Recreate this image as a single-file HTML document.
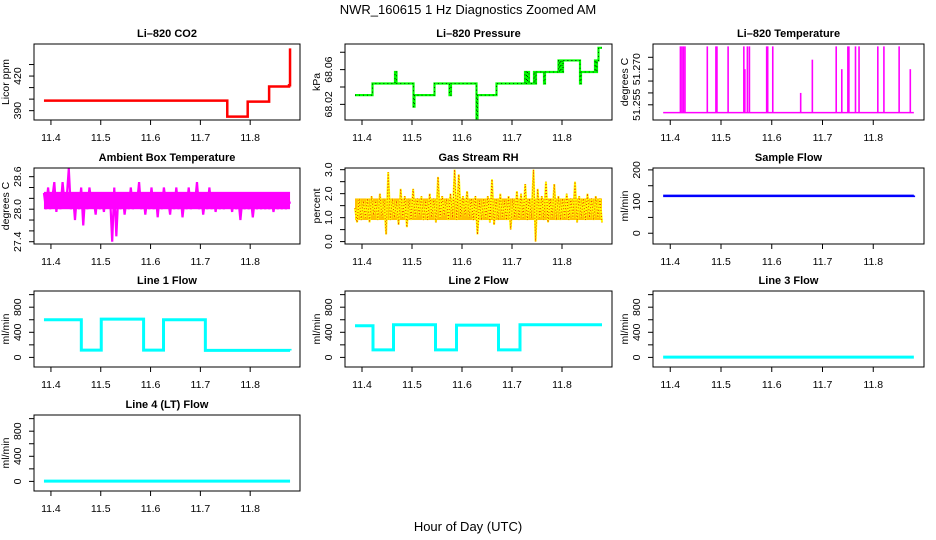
<!DOCTYPE html>
<html><head><meta charset="utf-8">
<style>
html,body{margin:0;padding:0;background:#fff;}
svg{display:block;font-family:"Liberation Sans",Arial,sans-serif;}
.t{font-size:11px;font-weight:bold;text-anchor:middle;}
.tk{font-size:10.5px;text-anchor:middle;}
</style></head>
<body>
<svg id="chart" width="936" height="540" viewBox="0 0 936 540">
<text x="468" y="14" font-size="13" text-anchor="middle">NWR_160615  1 Hz Diagnostics Zoomed AM</text>
<text x="468" y="531" font-size="13" text-anchor="middle">Hour of Day (UTC)</text>
</svg>
<script>
// ---- data ----
const xTicks = [11.4, 11.5, 11.6, 11.7, 11.8];
const xLim = [11.366, 11.900];
const co2Times = [11.386, 11.754, 11.795, 11.838, 11.878, 11.880];
const co2Values = [398.7, 384.8, 397.8, 410.9, 412.0, 444.0];
const presTimes = [11.386,11.421,11.466,11.469,11.503,11.505,11.545,11.575,11.578,11.629,11.631,11.669,11.726,11.729,11.731,11.734,11.744,11.746,11.748,11.764,11.766,11.793,11.795,11.797,11.800,11.802,11.836,11.838,11.866,11.868,11.870,11.873,11.880];
const presValues = [68.0306,68.044,68.0573,68.044,68.0173,68.0306,68.044,68.0306,68.044,68.004,68.0306,68.044,68.0573,68.044,68.0573,68.044,68.0573,68.044,68.0573,68.044,68.0573,68.0706,68.0573,68.0706,68.0573,68.0706,68.044,68.0573,68.0706,68.0573,68.0706,68.0851,68.0851];
const tempSpikeTimes = [11.420,11.423,11.426,11.429,11.473,11.490,11.492,11.514,11.545,11.547,11.552,11.556,11.590,11.592,11.602,11.657,11.680,11.727,11.738,11.750,11.752,11.765,11.772,11.809,11.821,11.851,11.873];
const tempSpikeValues = [51.2796,51.2796,51.2796,51.2796,51.2796,51.2796,51.2796,51.2796,51.2796,51.2700,51.2796,51.2796,51.2796,51.2796,51.2796,51.2600,51.2740,51.2796,51.2700,51.2796,51.2796,51.2796,51.2796,51.2796,51.2796,51.2796,51.2700];
const tempBase = 51.2517;
const ambientValues = [28.3,28.0,28.4,28.0,28.2,28.5,27.95,28.3,28.0,28.5,28.1,28.2,28.75,28.0,28.3,27.8,28.3,28.0,28.4,27.7,
28.3,28.0,28.4,28.1,28.2,27.9,28.3,28.0,28.2,27.95,28.3,28.1,28.2,27.4,28.4,27.5,28.3,28.0,28.3,27.9,
28.2,28.0,28.4,28.0,28.3,28.1,28.5,28.0,28.3,27.9,28.2,28.0,28.4,28.0,28.3,27.85,28.3,28.0,28.4,28.1,
28.2,27.9,28.3,28.0,28.4,28.0,28.3,27.85,28.2,28.0,28.4,28.0,28.3,28.1,28.5,28.0,28.3,27.9,28.2,28.0,
28.4,28.0,28.3,27.95,28.2,28.0,28.3,28.0,28.3,28.1,28.2,27.95,28.3,28.0,28.2,27.8,28.2,28.0,28.3,28.0,
28.2,27.85,28.2,28.0,28.3,28.0,28.2,28.0,28.2,28.0,28.2,27.95,28.2,28.0,28.2,28.0,28.2,28.0,28.2,28.1];
const rhValues = [1.4,0.8,1.8,0.9,1.7,1.0,1.8,0.8,1.9,1.1,1.7,0.9,2.0,1.0,1.8,0.3,2.9,0.9,1.8,1.0,
1.7,0.7,2.2,1.0,1.9,0.6,1.8,0.9,2.2,1.0,1.8,1.1,1.9,0.9,1.7,0.9,2.0,1.0,1.8,0.8,
2.7,1.0,1.9,1.1,1.8,0.9,2.0,1.0,3.0,0.9,2.8,1.0,1.9,1.1,2.1,1.0,1.8,0.9,1.9,0.3,
1.7,0.9,1.8,1.0,1.9,0.8,2.6,0.7,1.8,0.9,2.0,1.0,1.7,0.9,1.9,0.5,1.8,1.0,2.1,0.9,
2.0,1.0,2.4,0.9,1.8,1.0,3.0,0.0,2.2,1.0,1.9,0.9,2.5,0.8,1.8,1.0,2.4,0.9,1.9,0.9,
1.8,1.0,2.0,0.9,1.8,1.0,2.5,0.8,1.9,1.0,1.8,0.9,2.0,1.0,1.8,0.9,1.9,1.0,1.8,0.8];
const sampleFlowTimes = [11.386, 11.880];
const sampleFlowValues = [118, 119];
const line1Times = [11.386,11.461,11.501,11.586,11.626,11.710,11.880];
const line1Values = [600,115,610,115,600,112,110];
const line2Times = [11.386,11.422,11.463,11.547,11.589,11.673,11.716,11.880];
const line2Values = [505,120,520,120,515,120,520,520];
const line3Times = [11.386,11.880];
const line3Values = [5,5];
const line4Times = [11.386,11.880];
const line4Values = [5,5];
const seriesStart = 11.386, seriesEnd = 11.880;

// ---- drawing ----
const NS = "http://www.w3.org/2000/svg";
const svg = document.getElementById('chart');
function mk(tag, attrs, parent){const e=document.createElementNS(NS,tag);for(const k in attrs)e.setAttribute(k,attrs[k]);(parent||svg).appendChild(e);return e;}

function panel(name, title, box, yLim, yTicks, yLabels, yTitle){
  const g = mk('g',{});
  
  
  const [x0,y0,x1,y1] = box;
  const sx = v => x0 + (v-xLim[0])/(xLim[1]-xLim[0])*(x1-x0);
  const sy = v => y1 - (v-yLim[0])/(yLim[1]-yLim[0])*(y1-y0);
  const t = mk('text',{x:(x0+x1)/2,y:y0-7,class:'t'},g); t.textContent=title;
  
  
  const fr = mk('rect',{x:x0,y:y0,width:x1-x0,height:y1-y0,fill:'none',stroke:'#000','stroke-width':1},g);
  
  
  const ax = mk('g',{},g);
  
  
  xTicks.forEach(v=>{
    mk('line',{x1:sx(v),x2:sx(v),y1:y1,y2:y1+5,stroke:'#000'},ax);
    const l=mk('text',{x:sx(v),y:y1+21,class:'tk'},ax); l.textContent=v.toFixed(1);
  });
  const ay = mk('g',{},g);
  
  
  yTicks.forEach((v,i)=>{
    mk('line',{x1:x0-5,x2:x0,y1:sy(v),y2:sy(v),stroke:'#000'},ay);
    if(yLabels[i]){const l=mk('text',{x:0,y:0,class:'tk',transform:`translate(${x0-13},${sy(v)}) rotate(-90)`},ay); l.textContent=yLabels[i];}
  });
  const yt=mk('text',{x:0,y:0,'font-size':'10.5','text-anchor':'middle',transform:`translate(${x0-25},${(y0+y1)/2}) rotate(-90)`},g);
  yt.textContent=yTitle;
  
  
  return {g,sx,sy};
}
function stepPath(P, times, vals){
  let d=`M${P.sx(times[0])},${P.sy(vals[0])}`;
  for(let i=1;i<times.length;i++){d+=`H${P.sx(times[i])}V${P.sy(vals[i])}`;}
  return d;
}
function linePath(P, vals){
  let d='';
  vals.forEach((v,i)=>{const t=seriesStart+(seriesEnd-seriesStart)*i/(vals.length-1);d+=(i?'L':'M')+P.sx(t)+','+P.sy(v);});
  return d;
}
const C1=[34,300], C2=[345,612], C3=[653,924];
const R=[[44,120],[168,244],[291,367],[415,491]];
const flowTicks=[0,200,400,600,800,1000], flowLabels=['0','','400','','800',''];
const flowLim=[-153,1058];

let P, s;
// CO2
P=panel('co2','Li\u2013820 CO2',[C1[0],R[0][0],C1[1],R[0][1]],[381.9,447.8],[390,400,410,420,430],['390','','','420',''],'Licor ppm');
s=mk('path',{d:stepPath(P,co2Times,co2Values),fill:'none',stroke:'#ff0000','stroke-width':2.5},P.g);
 
// Pressure
P=panel('pressure','Li\u2013820 Pressure',[C2[0],R[0][0],C2[1],R[0][1]],[68.002,68.0895],[68.02,68.04,68.06,68.08],['68.02','','68.06',''],'kPa');
s=mk('path',{d:stepPath(P,presTimes,presValues),fill:'none',stroke:'#00ff00','stroke-width':2.2},P.g);
 
s=mk('path',{d:stepPath(P,presTimes,presValues),fill:'none',stroke:'#000','stroke-width':0.8,'stroke-dasharray':'1,3'},P.g);
 
// Temperature
P=panel('li820-temperature','Li\u2013820 Temperature',[C3[0],R[0][0],C3[1],R[0][1]],[51.2486,51.2806],[51.255,51.26,51.265,51.27,51.275],['51.255','','','51.270',''],'degrees C');
s=mk('line',{x1:P.sx(seriesStart),x2:P.sx(seriesEnd),y1:P.sy(tempBase),y2:P.sy(tempBase),stroke:'#ff00ff','stroke-width':1.5},P.g);
 
tempSpikeTimes.forEach((t,i)=>{
  const sp=mk('line',{x1:P.sx(t),x2:P.sx(t),y1:P.sy(tempBase),y2:P.sy(tempSpikeValues[i]),stroke:'#ff00ff','stroke-width':1.6},P.g);
   
});
// Ambient
P=panel('ambient-temperature','Ambient Box Temperature',[C1[0],R[1][0],C1[1],R[1][1]],[27.358,28.76],[27.4,27.6,27.8,28.0,28.2,28.4,28.6],['27.4','','','28.0','','','28.6'],'degrees C');
mk('rect',{x:P.sx(seriesStart),y:P.sy(28.32),width:P.sx(seriesEnd)-P.sx(seriesStart),height:P.sy(28.0)-P.sy(28.32),fill:'#ff00ff'},P.g);
s=mk('path',{d:linePath(P,ambientValues),fill:'none',stroke:'#ff00ff','stroke-width':2.2},P.g);
 
// RH
P=panel('gas-stream-rh','Gas Stream RH',[C2[0],R[1][0],C2[1],R[1][1]],[-0.1,3.07],[0,0.5,1,1.5,2,2.5,3],['0.0','','1.0','','2.0','','3.0'],'percent');
mk('rect',{x:P.sx(seriesStart),y:P.sy(1.8),width:P.sx(seriesEnd)-P.sx(seriesStart),height:P.sy(0.9)-P.sy(1.8),fill:'#ffc000'},P.g);
s=mk('path',{d:linePath(P,rhValues),fill:'none',stroke:'#ffff00','stroke-width':2},P.g);
 
s=mk('path',{d:linePath(P,rhValues),fill:'none',stroke:'#ee2200','stroke-width':0.9,'stroke-dasharray':'1,2'},P.g);
 
// Sample flow
P=panel('sample-flow','Sample Flow',[C3[0],R[1][0],C3[1],R[1][1]],[-34,206],[0,50,100,150,200],['0','','100','','200'],'ml/min');
s=mk('path',{d:stepPath(P,sampleFlowTimes,sampleFlowValues),fill:'none',stroke:'#0000ff','stroke-width':2.5},P.g);
 
// Line flows
[['line1-flow','Line 1 Flow',C1,R[2],line1Times,line1Values],
 ['line2-flow','Line 2 Flow',C2,R[2],line2Times,line2Values],
 ['line3-flow','Line 3 Flow',C3,R[2],line3Times,line3Values],
 ['line4-flow','Line 4 (LT) Flow',C1,R[3],line4Times,line4Values]].forEach(a=>{
  const Q=panel(a[0],a[1],[a[2][0],a[3][0],a[2][1],a[3][1]],flowLim,flowTicks,flowLabels,'ml/min');
  const l=mk('path',{d:stepPath(Q,a[4],a[5]),fill:'none',stroke:'#00ffff','stroke-width':3},Q.g);
  
  
});
</script>
</body></html>
